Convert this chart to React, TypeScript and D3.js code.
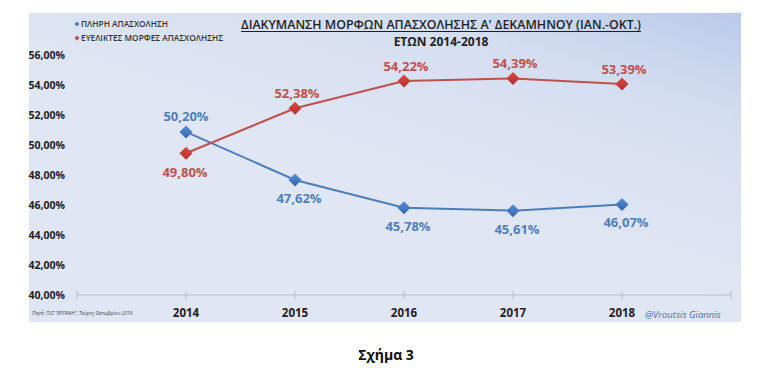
import React from "react";
import { scaleLinear, line, range } from "d3";

// data
const years = [2014, 2015, 2016, 2017, 2018];
const fullTime = [50.87, 47.67, 45.82, 45.62, 46.04];
const flexible = [49.45, 52.45, 54.27, 54.44, 54.07];
const fullTimeLabels = ["50,20%", "47,62%", "45,78%", "45,61%", "46,07%"];
const flexibleLabels = ["49,80%", "52,38%", "54,22%", "54,39%", "53,39%"];
const yTicks = [40, 42, 44, 46, 48, 50, 52, 54, 56];
const seriesNames = ["ΠΛΗΡΗ ΑΠΑΣΧΟΛΗΣΗ", "ΕΥΕΛΙΚΤΕΣ ΜΟΡΦΕΣ ΑΠΑΣΧΟΛΗΣΗΣ"];

const FONT = "'Open Sans', 'Noto Sans', sans-serif";
const BLUE = "#4a7ebb";
const RED = "#c0504d";

function Diamond({ x, y, r, fill }: { x: number; y: number; r: number; fill: string }) {
  return (
    <path
      d={`M${x},${y - r}L${x + r},${y}L${x},${y + r}L${x - r},${y}Z`}
      fill={fill}
    />
  );
}

export default function App() {
  const W = 784, H = 371;
  const x = scaleLinear().domain([2013, 2019]).range([77, 731]);
  const y = scaleLinear().domain([40, 56]).range([295, 55]);

  const ln = line<number>()
    .x((d, i) => x(years[i]))
    .y((d) => y(d));

  const fmt = (v: number) => v.toFixed(2).replace(".", ",") + "%";

  return (
    <svg width={W} height={H} style={{ position: "absolute", left: 0, top: 0, fontFamily: FONT }}>
      <defs>
        <linearGradient id="bg" x1="1" y1="0" x2="0.55" y2="0.6">
          <stop offset="0" stopColor="#b9cbe9" />
          <stop offset="0.4" stopColor="#d5def1" />
          <stop offset="1" stopColor="#e0e6f3" />
        </linearGradient>
        <linearGradient id="gBlue" x1="0" y1="0" x2="0" y2="1">
          <stop offset="0" stopColor="#5b8fd6" />
          <stop offset="1" stopColor="#2f64b0" />
        </linearGradient>
        <linearGradient id="gRed" x1="0" y1="0" x2="0" y2="1">
          <stop offset="0" stopColor="#dc4a44" />
          <stop offset="1" stopColor="#b52e2b" />
        </linearGradient>
      </defs>
      <rect x={0} y={0} width={W} height={H} fill="#ffffff" />
      <rect x={29} y={13} width={712} height={309} fill="url(#bg)" />

      {/* title */}
      <text x={441} y={29} textAnchor="middle" fontSize={12.8} fontWeight={600} fill="#1f1f1f"
        textLength={400} lengthAdjust="spacingAndGlyphs">
        ΔΙΑΚΥΜΑΝΣΗ ΜΟΡΦΩΝ ΑΠΑΣΧΟΛΗΣΗΣ Α' ΔΕΚΑΜΗΝΟΥ (ΙΑΝ.-ΟΚΤ.)
      </text>
      <line x1={241} x2={641} y1={31.5} y2={31.5} stroke="#1f1f1f" strokeWidth={1} />
      <text x={441} y={46} textAnchor="middle" fontSize={12} fontWeight={700} fill="#1f1f1f">
        ΕΤΩΝ 2014-2018
      </text>

      {/* legend */}
      {seriesNames.map((name, i) => (
        <g key={name}>
          <Diamond x={77} y={24 + i * 14} r={2.5} fill={i === 0 ? BLUE : RED} />
          <text x={81} y={27 + i * 14} fontSize={8.3} fontWeight={600} fill="#333">
            {name}
          </text>
        </g>
      ))}

      {/* y axis labels */}
      {yTicks.map((t) => (
        <text key={t} x={65} y={y(t) + 4} textAnchor="end" fontSize={10.5} fontWeight={700} fill="#222">
          {fmt(t)}
        </text>
      ))}

      {/* x axis */}
      <line x1={x(2013)} x2={x(2019)} y1={y(40)} y2={y(40)} stroke="#b4bccb" strokeWidth={1} />
      {range(2013, 2020).map((yr) => (
        <line key={yr} x1={x(yr)} x2={x(yr)} y1={y(40) - 4} y2={y(40) + 4} stroke="#b4bccb" strokeWidth={1} />
      ))}
      {years.map((yr) => (
        <text key={yr} x={x(yr)} y={317} textAnchor="middle" fontSize={11.5} fontWeight={700} fill="#222">
          {yr}
        </text>
      ))}

      {/* lines */}
      <path d={ln(fullTime) || ""} fill="none" stroke={BLUE} strokeWidth={2} />
      <path d={ln(flexible) || ""} fill="none" stroke={RED} strokeWidth={2} />
      {fullTime.map((v, i) => (
        <Diamond key={"b" + i} x={x(years[i])} y={y(v)} r={6.5} fill="url(#gBlue)" />
      ))}
      {flexible.map((v, i) => (
        <Diamond key={"r" + i} x={x(years[i])} y={y(v)} r={6.5} fill="url(#gRed)" />
      ))}

      {/* data labels */}
      {fullTime.map((v, i) => (
        <text
          key={"bl" + i}
          x={x(years[i]) + (i === 0 ? 0 : 4)}
          y={y(v) + (i === 0 ? -11 : 23)}
          textAnchor="middle"
          fontSize={13}
          fontWeight={700}
          fill="#4f7fbc"
        >
          {fullTimeLabels[i]}
        </text>
      ))}
      {flexible.map((v, i) => (
        <text
          key={"rl" + i}
          x={x(years[i]) + (i === 0 ? -1 : 2)}
          y={y(v) + (i === 0 ? 24 : -10)}
          textAnchor="middle"
          fontSize={13}
          fontWeight={700}
          fill="#c0504d"
        >
          {flexibleLabels[i]}
        </text>
      ))}

      {/* source + watermark */}
      <text x={32} y={315} fontSize={5} fontStyle="italic" fill="#444">
        Πηγή: Π/Σ "ΕΡΓΑΝΗ", Τεύχος Οκτωβρίου 2018
      </text>
      <text x={645} y={318} fontSize={9.5} fontStyle="italic" fill="#4d6d9c">
        @Vroutsis Giannis
      </text>

      <text x={386} y={360} textAnchor="middle" fontSize={14} fontWeight={700} fill="#111">
        Σχήμα 3
      </text>
    </svg>
  );
}
